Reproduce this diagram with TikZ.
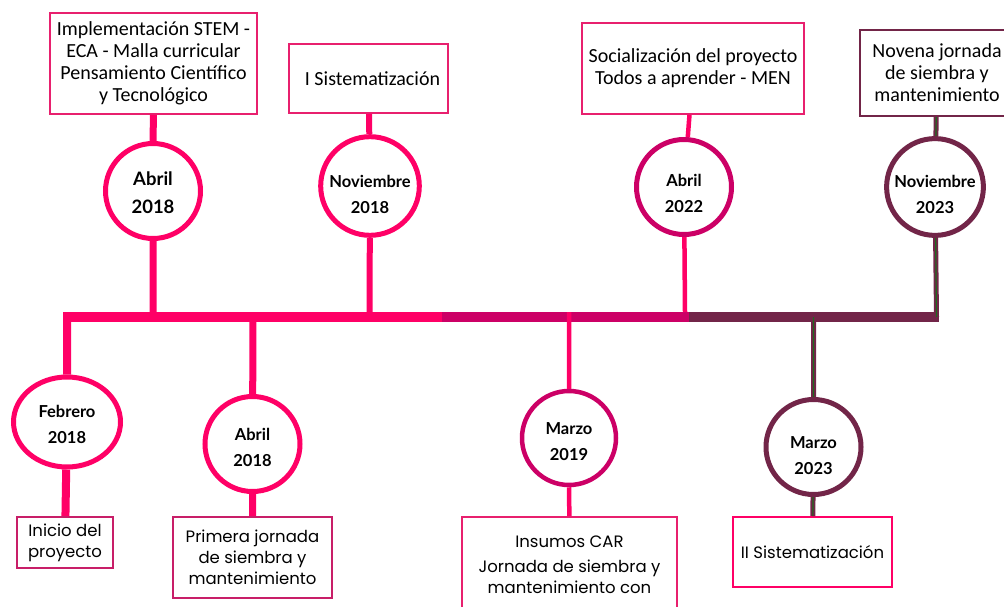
\documentclass[tikz,border=0pt]{standalone}
\usepackage{fontspec}
\setmainfont{Carlito}
\newfontfamily\datefont{Lato}
\newfontfamily\lowfont{Poppins}
\usetikzlibrary{shapes.geometric}

\definecolor{hotpink}{HTML}{FF0066}
\definecolor{deeppink}{HTML}{CC0066}
\definecolor{plum}{HTML}{722548}
\definecolor{boxpink}{HTML}{E8206E}
\definecolor{boxdeep}{HTML}{C81E68}
\definecolor{stripe}{HTML}{1E6B1E}

% pushes the first line of a date down
\newcommand{\datedrop}[1]{\rule{0pt}{#1}}

\tikzset{
  datecircle/.style={circle, draw=#1, line width=5pt, fill=white, minimum size=95pt,
    inner sep=0pt, align=center, font=\datefont\bfseries\fontsize{16.5}{26}\selectfont},
  topbox/.style={rectangle, draw=#1, line width=2pt, fill=white, inner sep=0pt,
    align=center, font=\fontsize{20}{22}\selectfont},
  lowbox/.style={rectangle, draw=#1, line width=2pt, fill=white, inner sep=0pt,
    align=center, font=\lowfont\fontsize{16.5}{21}\selectfont}
}

\begin{document}
\begin{tikzpicture}[x=1pt,y=-1pt]
  \useasboundingbox (0,0) rectangle (1004,607);

  % time bar
  \draw[line width=10pt, hotpink] (63,317) -- (442,317);
  \draw[line width=10pt, deeppink] (442,317) -- (689,317);
  \draw[line width=10pt, plum] (689,317) -- (939,317);

  \coordinate (j0) at (67,317);
  \coordinate (j1) at (153,317);
  \coordinate (j2) at (253,317);
  \coordinate (j3) at (369.5,317);
  \coordinate (j4) at (569,312);
  \coordinate (j5) at (685,312);
  \coordinate (j6) at (813.5,317);
  \coordinate (j7) at (936.5,317);

  % top boxes
  \node[topbox=boxpink, minimum width=207pt, minimum height=101pt] (stem) at (153.5,63.5)
    {Implementación STEM -\\ECA - Malla curricular\\Pensamiento Científico\\y Tecnológico};
  \node[topbox=boxpink, minimum width=159pt, minimum height=69pt] (sist1) at (368.5,78.5)
    {\hspace*{8pt}I Sistematización};
  \node[topbox=boxpink, minimum width=222pt, minimum height=91pt] (social) at (693,68.5)
    {Socialización del proyecto\\Todos a aprender - MEN};
  \node[topbox=plum, minimum width=154pt, minimum height=86pt] (novena) at (937,73)
    {Novena jornada\\de siembra y\\mantenimiento};

  % top dates
  \node[datecircle=hotpink, font=\datefont\bfseries\fontsize{18.5}{28}\selectfont] (abr18) at (153,191) {\datedrop{17.7pt}Abril\\2018};
  \node[datecircle=hotpink, minimum size=94pt] (nov18) at (370,186) {\datedrop{30pt}Noviembre\\2018};
  \node[datecircle=deeppink] (abr22) at (684,187) {\datedrop{25pt}Abril\\2022};
  \node[datecircle=plum, minimum size=94pt] (nov23) at (935,187) {\datedrop{27pt}Noviembre\\2023};

  % bottom dates
  \node[datecircle=hotpink, ellipse, minimum width=107pt, minimum height=90pt] (feb18) at (67,422) {\datedrop{17pt}Febrero\\2018};
  \node[datecircle=hotpink] (abr18b) at (252.5,444) {\datedrop{19pt}Abril\\2018};
  \node[datecircle=deeppink, line width=4.5pt, minimum size=94pt] (mar19) at (569,438) {\datedrop{19pt}Marzo\\2019};
  \node[datecircle=plum] (mar23) at (813.5,447) {\datedrop{30pt}Marzo\\2023};

  % bottom boxes
  \node[lowbox=boxdeep, minimum width=96pt, minimum height=51pt] (inicio) at (65,542.5)
    {Inicio del\\proyecto};
  \node[lowbox=boxdeep, minimum width=159pt, minimum height=81pt] (primera) at (252.5,557.5)
    {Primera jornada\\de siembra y\\mantenimiento};
  \node[lowbox=boxpink, minimum width=215pt, minimum height=123pt] (insumos) at (569.5,578.5)
    {Insumos CAR\\[4pt]Jornada de siembra y\\mantenimiento con\\[6pt]\mbox{}};
  \node[lowbox=hotpink, minimum width=159pt, minimum height=70pt] (sist2) at (812.5,552)
    {II Sistematización};

  % connectors above the bar
  \draw[hotpink, line width=7pt] (stem) -- (abr18) (abr18) -- (j1);
  \draw[hotpink, line width=6pt] (sist1) -- (nov18) (nov18) -- (j3);
  \draw[hotpink, line width=4.5pt] (social) -- (abr22) (abr22) -- (j5);
  \draw[plum, line width=5pt] (novena) -- (nov23) (nov23) -- (j7);
  \draw[stripe, line width=1.2pt] (novena) -- (nov23) (nov23) -- (j7);

  % connectors below the bar
  \draw[hotpink, line width=8pt] (j0) -- (feb18) (feb18) -- (inicio);
  \draw[hotpink, line width=7pt] (j2) -- (abr18b) (abr18b) -- (primera);
  \draw[hotpink, line width=4.5pt] (j4) -- (mar19) (mar19) -- (insumos);
  \draw[plum, line width=5pt] (j6) -- (mar23) (mar23) -- (sist2);
  \draw[stripe, line width=1.2pt] (j6) -- (mar23) (mar23) -- (sist2);
\end{tikzpicture}
\end{document}
